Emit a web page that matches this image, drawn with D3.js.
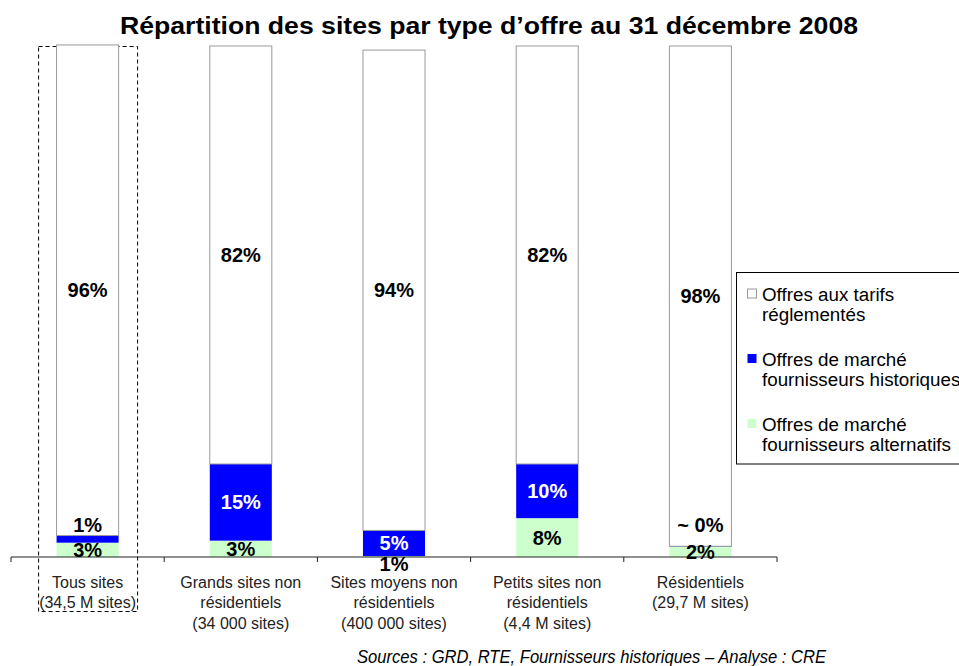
<!DOCTYPE html>
<html>
<head>
<meta charset="utf-8">
<script src="https://cdn.jsdelivr.net/npm/d3@7"></script>
<style>
	body { margin: 0; background: #fff; }
	svg { display: block; font-family: Arial, "Liberation Sans", sans-serif; }
</style>
</head>
<body>
<svg id="chart" width="959" height="666"></svg>
<script>

// categories (each label split in lines)
let categories = [
	['Tous sites', '(34,5 M sites)'],
	['Grands sites non', 'résidentiels', '(34 000 sites)'],
	['Sites moyens non', 'résidentiels', '(400 000 sites)'],
	['Petits sites non', 'résidentiels', '(4,4 M sites)'],
	['Résidentiels', '(29,7 M sites)']
];

// series values (share of sites, %), stacked from the bottom
let alternatifs = [2.8, 3.2, 0.2, 7.6, 2.0];
let historiques = [1.4, 15.0, 5.0, 10.6, 0.1];
let tarifs = [96.0, 81.8, 94.0, 81.8, 97.9];

// printed labels
let altLabels = ['3%', '3%', '1%', '8%', '2%'];
let histLabels = ['1%', '15%', '5%', '10%', '~ 0%'];
let tarifLabels = ['96%', '82%', '94%', '82%', '98%'];

let seriesNames = [
	['Offres aux tarifs', 'réglementés'],
	['Offres de marché', 'fournisseurs historiques'],
	['Offres de marché', 'fournisseurs alternatifs']
];

let title = 'Répartition des sites par type d’offre au 31 décembre 2008';
let source = 'Sources : GRD, RTE, Fournisseurs historiques – Analyse : CRE';

let colors = { alt: '#ccffcc', hist: '#0000ff', tarif: '#ffffff' };

let svg = d3.select('#chart');

let rows = categories.map((c, i) => ({
	idx: i,
	alt: alternatifs[i],
	hist: historiques[i],
	tarif: tarifs[i]
}));

let x = d3.scaleBand()
	.domain(d3.range(categories.length))
	.range([11, 777])
	.paddingInner(0.595)
	.paddingOuter(0.2975);

let y = d3.scaleLinear().domain([0, 100]).range([557, 46]);

let stack = d3.stack().keys(['alt', 'hist', 'tarif']);
let layers = stack(rows);

// title
svg.append('text')
	.attr('x', 120)
	.attr('y', 33.5)
	.attr('textLength', 738)
	.attr('lengthAdjust', 'spacingAndGlyphs')
	.style('font-size', '23.5px')
	.style('font-weight', 'bold')
	.text(title);

// dashed frame around first category
let x0 = x(0) + x.bandwidth() / 2;
svg.append('rect')
	.attr('x', x0 - 49)
	.attr('y', 46.5)
	.attr('width', 99)
	.attr('height', 565)
	.attr('fill', 'none')
	.attr('stroke', '#000')
	.attr('stroke-width', 1)
	.attr('stroke-dasharray', '4,3');

// bars
svg.append('g').selectAll('g')
	.data(layers)
	.join('g')
	.attr('fill', d => colors[d.key])
	.attr('stroke', d => d.key === 'tarif' ? '#999' : 'none')
	.selectAll('rect')
	.data(d => d)
	.join('rect')
	.attr('x', d => x(d.data.idx))
	.attr('width', x.bandwidth())
	.attr('y', d => y(d[1]))
	.attr('height', d => y(d[0]) - y(d[1]));

// axis
let axis = svg.append('g');
axis.append('line')
	.attr('x1', 11).attr('x2', 777)
	.attr('y1', y(0)).attr('y2', y(0))
	.attr('stroke', '#222');
let step = x.step();
d3.range(categories.length + 1).forEach(i => {
	let tx = 11 + i * step;
	axis.append('line')
		.attr('x1', tx).attr('x2', tx)
		.attr('y1', y(0)).attr('y2', y(0) + 5)
		.attr('stroke', '#222');
});

// category labels
categories.forEach((lines, i) => {
	let t = svg.append('text')
		.attr('text-anchor', 'middle')
		.style('font-size', '16px')
		.attr('fill', '#222');
	lines.forEach((l, k) => {
		t.append('tspan')
			.attr('x', x(i) + x.bandwidth() / 2)
			.attr('y', 587.5 + k * 20.5)
			.text(l);
	});
});

// value labels
let labelTexts = { alt: altLabels, hist: histLabels, tarif: tarifLabels };
let labels = svg.append('g')
	.attr('text-anchor', 'middle')
	.style('font-size', '20px')
	.style('font-weight', 'bold');

layers.forEach(layer => {
	layer.forEach((d, i) => {
		let h = y(d[0]) - y(d[1]);
		let cy = (y(d[0]) + y(d[1])) / 2;
		let fill = layer.key === 'hist' ? '#fff' : '#000';
		if (h < 8) {
			fill = '#000';
			if (layer.key === 'hist') cy = y(6.2);
			else cy = y(0) + 7;
		}
		labels.append('text')
			.attr('x', x(i) + x.bandwidth() / 2)
			.attr('y', cy + 7)
			.attr('fill', fill)
			.text(labelTexts[layer.key][i]);
	});
});

// legend
let lg = svg.append('g');
lg.append('rect')
	.attr('x', 736.5).attr('y', 272.5)
	.attr('width', 240).attr('height', 191.5)
	.attr('fill', '#fff')
	.attr('stroke', '#000');
let legendKeys = ['tarif', 'hist', 'alt'];
seriesNames.forEach((lines, i) => {
	let top = 294 + i * 65;
	lg.append('rect')
		.attr('x', 747.5).attr('y', top - 5)
		.attr('width', 9).attr('height', 9)
		.attr('fill', colors[legendKeys[i]])
		.attr('stroke', legendKeys[i] === 'tarif' ? '#999' : 'none');
	let t = lg.append('text')
		.style('font-size', '18.8px')
		.attr('fill', '#000');
	lines.forEach((l, k) => {
		t.append('tspan')
			.attr('x', 762)
			.attr('y', top + 7 + k * 20)
			.text(l);
	});
});

// source
svg.append('text')
	.attr('x', 357)
	.attr('y', 663)
	.attr('textLength', 469)
	.attr('lengthAdjust', 'spacingAndGlyphs')
	.style('font-size', '18px')
	.style('font-style', 'italic')
	.text(source);

</script>
</body>
</html>
